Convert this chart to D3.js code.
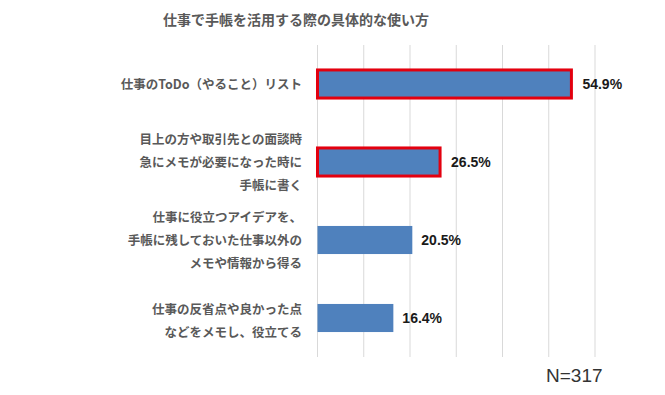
<!DOCTYPE html>
<html>
<head>
<meta charset="utf-8">
<script src="https://cdn.jsdelivr.net/npm/d3@7"></script>
<style>
  body { margin: 0; background: #fff; }
  svg { display: block; }
</style>
</head>
<body>
<div id="chart"></div>
<script>
const title = '仕事で手帳を活用する際の具体的な使い方';
const categories = [
    ['仕事のToDo（やること）リスト'],
    ['目上の方や取引先との面談時', '急にメモが必要になった時に', '手帳に書く'],
    ['仕事に役立つアイデアを、', '手帳に残しておいた仕事以外の', 'メモや情報から得る'],
    ['仕事の反省点や良かった点', 'などをメモし、役立てる']
];
const values = [54.9, 26.5, 20.5, 16.4];
const highlighted = [true, true, false, false];
const ticks = [0, 10, 20, 30, 40, 50, 60];
const note = 'N=317';

const width = 665;
const height = 395;
const plotLeft = 317.5, plotRight = 595;
const plotTop = 45, plotBottom = 357;

const svg = d3.select('#chart')
    .append('svg')
    .attr('width', width)
    .attr('height', height);

const xScale = d3.scaleLinear()
    .domain([0, 60])
    .range([plotLeft, plotRight]);

const yScale = d3.scaleBand()
    .domain(d3.range(categories.length))
    .range([plotTop, plotBottom])
    .paddingInner(0.64)
    .paddingOuter(0.32);

svg.append('text')
    .attr('x', 296)
    .attr('y', 25)
    .attr('text-anchor', 'middle')
    .attr('font-family', '"Noto Sans CJK JP", sans-serif')
    .attr('font-size', 14)
    .attr('font-weight', 'bold')
    .attr('fill', '#595959')
    .text(title);

// gridlines
svg.selectAll('.grid')
    .data(ticks)
    .enter()
    .append('line')
    .attr('class', 'grid')
    .attr('x1', d => xScale(d))
    .attr('x2', d => xScale(d))
    .attr('y1', plotTop)
    .attr('y2', plotBottom)
    .attr('stroke', '#d9d9d9')
    .attr('stroke-width', 1);

svg.selectAll('.bar')
    .data(values)
    .enter()
    .append('rect')
    .attr('class', 'bar')
    .attr('x', xScale(0))
    .attr('y', (d, i) => yScale(i))
    .attr('width', d => xScale(d) - xScale(0))
    .attr('height', yScale.bandwidth())
    .attr('fill', '#4f81bd')
    .attr('stroke', (d, i) => highlighted[i] ? '#e3000f' : 'none')
    .attr('stroke-width', 3);

svg.selectAll('.value')
    .data(values)
    .enter()
    .append('text')
    .attr('class', 'value')
    .attr('x', (d, i) => xScale(d) + (highlighted[i] ? 11 : 9))
    .attr('y', (d, i) => yScale(i) + yScale.bandwidth() / 2)
    .attr('dy', '0.36em')
    .attr('font-family', '"Liberation Sans", Arial, sans-serif')
    .attr('font-size', 14)
    .attr('font-weight', 'bold')
    .attr('fill', '#1a1a1a')
    .text(d => d.toFixed(1) + '%');

// category labels
const lineHeight = 23;
const labels = svg.selectAll('.label')
    .data(categories)
    .enter()
    .append('text')
    .attr('class', 'label')
    .attr('text-anchor', 'end')
    .attr('font-family', '"Noto Sans CJK JP", sans-serif')
    .attr('font-size', 12.5)
    .attr('font-weight', 'bold')
    .attr('fill', '#595959');

labels.each(function(lines, i) {
    const cy = yScale(i) + yScale.bandwidth() / 2 + (lines.length === 2 ? 3 : 0);
    const start = cy - (lines.length - 1) * lineHeight / 2;
    d3.select(this).selectAll('tspan')
        .data(lines)
        .enter()
        .append('tspan')
        .attr('x', 302)
        .attr('y', (d, j) => start + j * lineHeight)
        .attr('dy', '0.36em')
        .text(d => d);
});

svg.append('text')
    .attr('x', 546)
    .attr('y', 382)
    .attr('font-family', '"Liberation Sans", Arial, sans-serif')
    .attr('font-size', 19)
    .attr('fill', '#333')
    .text(note);
</script>
</body>
</html>
